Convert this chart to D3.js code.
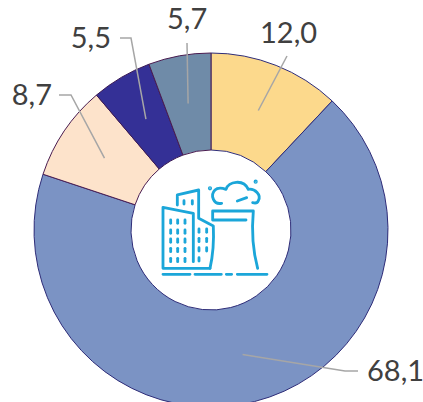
<!DOCTYPE html>
<html>
<head>
<meta charset="utf-8">
<script src="https://cdn.jsdelivr.net/npm/d3@7"></script>
<style>
html, body { margin: 0; padding: 0; background: #fff; }
svg { display: block; }
</style>
</head>
<body>
<div id="chart"></div>
<script>
var labels = ["12,0", "68,1", "8,7", "5,5", "5,7"];
var values = [12.0, 68.1, 8.7, 5.5, 5.7];

function init(){

	var w = 423;
	var h = 402;
	var cx = 211;
	var cy = 230;
	var outerRadius = 177;
	var innerRadius = 80;

	var color = d3.scaleOrdinal()
				.domain(labels)
				.range(["#fcd98c", "#7b93c4", "#fde3cb", "#343096", "#6f8ba8"]);
	//edges look navy on the right, more maroon on the left slices
	var edge = d3.scaleOrdinal()
				.domain(labels)
				.range(["#2e2c78", "#2e2c78", "#4a1c50", "#3a1a55", "#4a1c50"]);

	//leader ends relative to the centre: [x, y] of bend, then end (same as bend if straight)
	var leaders = {
		"12,0": {bend: [76, -174], end: [76, -174], tx: 49, ty: -187, anchor: "start"},
		"68,1": {bend: [134, 141], end: [147, 141], tx: 156, ty: 151, anchor: "start"},
		"8,7": {bend: [-140, -135], end: [-152, -135], tx: -159, ty: -125, anchor: "end"},
		"5,5": {bend: [-80, -192], end: [-91, -192], tx: -100, ty: -182, anchor: "end"},
		"5,7": {bend: [-24, -187], end: [-24, -187], tx: -44, ty: -201, anchor: "start"}
	};

	var pie = d3.pie().sort(null);
	var arc = d3.arc()
				.outerRadius(outerRadius)
				.innerRadius(innerRadius);

	var svg = d3.select("#chart")
				.append("svg")
				.attr("width", w)
				.attr("height", h);

	var g = svg.append("g")
				.attr("transform", "translate(" + cx + "," + cy + ")");

	var arcs = g.selectAll("g.arc")
				.data(pie(values))
				.enter()
				.append("g")
				.attr("class", "arc");

	arcs.append("path")
		.attr("fill", function(d, i) { return color(labels[i]); })
		.attr("stroke", function(d, i) { return edge(labels[i]); })
		.attr("stroke-width", 1)
		.attr("d", arc);

	//leader lines start at the slice centroid
	var line = d3.line();
	arcs.append("path")
		.attr("fill", "none")
		.attr("stroke", "#a6a6a6")
		.attr("stroke-width", 1.5)
		.attr("d", function(d, i) {
			var l = leaders[labels[i]];
			return line([arc.centroid(d), l.bend, l.end]);
		});

	arcs.append("text")
		.text(function(d, i) { return labels[i]; })
		.attr("x", function(d, i) { return leaders[labels[i]].tx; })
		.attr("y", function(d, i) { return leaders[labels[i]].ty; })
		.attr("text-anchor", function(d, i) { return leaders[labels[i]].anchor; })
		.attr("font-family", "Lato, sans-serif")
		.attr("font-size", 29)
		.attr("fill", "#404040");

	//factory icon, drawn at 3x and scaled down
	var icon = svg.append("g")
				.attr("transform", "translate(130,150) scale(0.3333)")
				.attr("fill", "none")
				.attr("stroke", "#1ba6d9")
				.attr("stroke-width", 8.5)
				.attr("stroke-linecap", "round")
				.attr("stroke-linejoin", "round");

	var shapes = [
		"M99,373H180M195,373H274M289,373H305M322,373H411",
		"M99,355V172L190,190V335M99,355H240",
		"M142,165V135L206,120V205L250,228C252,270 248,320 240,355",
		"M248,183H370C364,250 368,300 383,355M248,183V210H348",
		"M275,160C250,165 240,135 255,120C265,110 280,115 288,118C295,95 340,85 355,118C375,115 395,135 385,152C382,160 375,160 368,158",
		"M322,153L350,143"
	];
	icon.selectAll("path")
		.data(shapes)
		.enter()
		.append("path")
		.attr("d", function(d) { return d; });

	//windows
	var winX = [122, 143, 165];
	var winY = [215, 245, 272, 300, 330];
	winX.forEach(function(x) {
		winY.forEach(function(y) {
			icon.append("path").attr("d", "M" + x + "," + (y - 5) + "V" + (y + 5));
		});
	});
	[[207, 242], [230, 242], [207, 270], [230, 270], [207, 298], [230, 298], [207, 328], [162, 157], [187, 157]].forEach(function(p) {
		icon.append("path").attr("d", "M" + p[0] + "," + (p[1] - 5) + "V" + (p[1] + 5));
	});
	[[240, 115], [377, 95]].forEach(function(p) {
		icon.append("circle").attr("cx", p[0]).attr("cy", p[1]).attr("r", 2).attr("fill", "#1ba6d9");
	});
}

window.onload = init;
</script>
</body>
</html>
